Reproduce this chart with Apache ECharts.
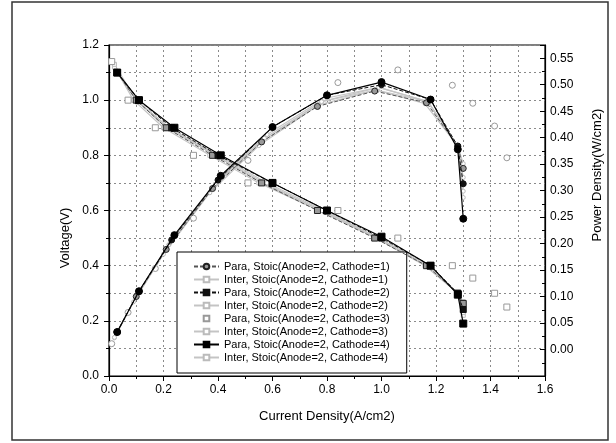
<!DOCTYPE html>
<html>
<head>
<meta charset="utf-8">
<script src="https://cdn.jsdelivr.net/npm/echarts@6/dist/echarts.min.js"></script>
<style>
  html, body { margin: 0; padding: 0; background: #fff; }
  #chart { width: 616px; height: 443px; }
</style>
</head>
<body>
<div id="chart"></div>
<script>
// current density (A/cm2), voltage (V), power density (W/cm2) per run
const currentPara1 = [0.03, 0.10, 0.21, 0.38, 0.56, 0.765, 0.975, 1.165, 1.28, 1.30]
const voltagePara1 = [1.10, 1.00, 0.90, 0.80, 0.70, 0.60, 0.50, 0.40, 0.30, 0.263]
const powerPara1 = [0.033, 0.100, 0.189, 0.304, 0.392, 0.459, 0.488, 0.466, 0.384, 0.342]

const currentInter1 = [0.03, 0.10, 0.21, 0.39, 0.57, 0.78, 0.98, 1.17, 1.28, 1.30]
const voltageInter1 = [1.10, 1.00, 0.90, 0.80, 0.70, 0.60, 0.50, 0.40, 0.30, 0.27]
const powerInter1 = [0.033, 0.100, 0.189, 0.312, 0.399, 0.468, 0.490, 0.468, 0.384, 0.351]

const currentPara2 = [0.03, 0.11, 0.23, 0.40, 0.60, 0.80, 1.00, 1.18, 1.28, 1.30]
const voltagePara2 = [1.10, 1.00, 0.90, 0.80, 0.70, 0.60, 0.50, 0.40, 0.30, 0.241]
const powerPara2 = [0.033, 0.110, 0.207, 0.320, 0.420, 0.480, 0.500, 0.472, 0.384, 0.313]

const currentInter2 = [0.03, 0.10, 0.22, 0.40, 0.58, 0.79, 0.99, 1.17, 1.28, 1.30]
const voltageInter2 = [1.10, 1.00, 0.90, 0.80, 0.70, 0.60, 0.50, 0.40, 0.30, 0.25]
const powerInter2 = [0.033, 0.100, 0.198, 0.320, 0.406, 0.474, 0.495, 0.468, 0.384, 0.325]

const currentPara3 = [0.01, 0.07, 0.17, 0.31, 0.51, 0.84, 1.06, 1.26, 1.335, 1.415, 1.46]
const voltagePara3 = [1.14, 1.00, 0.90, 0.80, 0.70, 0.60, 0.50, 0.40, 0.355, 0.30, 0.25]
const powerPara3 = [0.011, 0.070, 0.153, 0.248, 0.357, 0.504, 0.528, 0.499, 0.465, 0.422, 0.362]

const currentInter3 = [0.02, 0.09, 0.20, 0.37, 0.55, 0.77, 0.98, 1.16, 1.28, 1.30]
const voltageInter3 = [1.12, 1.00, 0.90, 0.80, 0.70, 0.60, 0.50, 0.40, 0.30, 0.22]
const powerInter3 = [0.022, 0.090, 0.180, 0.296, 0.385, 0.462, 0.490, 0.464, 0.384, 0.287]

const currentPara4 = [0.03, 0.11, 0.24, 0.41, 0.60, 0.80, 1.00, 1.18, 1.28, 1.30]
const voltagePara4 = [1.10, 1.00, 0.90, 0.80, 0.70, 0.60, 0.505, 0.40, 0.295, 0.19]
const powerPara4 = [0.033, 0.110, 0.216, 0.328, 0.420, 0.480, 0.505, 0.472, 0.378, 0.247]

const currentInter4 = [0.02, 0.10, 0.22, 0.39, 0.56, 0.78, 0.99, 1.17, 1.28, 1.30]
const voltageInter4 = [1.13, 1.00, 0.90, 0.80, 0.70, 0.60, 0.50, 0.40, 0.30, 0.23]
const powerInter4 = [0.023, 0.100, 0.198, 0.312, 0.392, 0.468, 0.495, 0.468, 0.384, 0.299]

const xTicks = [0.0, 0.2, 0.4, 0.6, 0.8, 1.0, 1.2, 1.4, 1.6]
const voltageTicks = [0.0, 0.2, 0.4, 0.6, 0.8, 1.0, 1.2]
const powerTicks = [0.00, 0.05, 0.10, 0.15, 0.20, 0.25, 0.30, 0.35, 0.40, 0.45, 0.50, 0.55]

const names = [
  'Para, Stoic(Anode=2, Cathode=1)',
  'Inter, Stoic(Anode=2, Cathode=1)',
  'Para, Stoic(Anode=2, Cathode=2)',
  'Inter, Stoic(Anode=2, Cathode=2)',
  'Para, Stoic(Anode=2, Cathode=3)',
  'Inter, Stoic(Anode=2, Cathode=3)',
  'Para, Stoic(Anode=2, Cathode=4)',
  'Inter, Stoic(Anode=2, Cathode=4)'
]

const zip = (xs, ys) => xs.map((x, i) => [x, ys[i]])

// look of each run: [line color, line type, line width, symbol fill, symbol border, size, empty]
const looks = {
  para1: { line: '#555', type: [4, 2], width: 1, fill: '#999', border: '#222', size: 6 },
  inter: { line: '#c4c4c4', type: 'solid', width: 1.2, fill: '#fff', border: '#bbb', size: 4 },
  para2: { line: '#111', type: [4, 2], width: 1, fill: '#111', border: '#111', size: 6 },
  para3: { line: '#aaa', type: 'solid', width: 0, fill: '#fff', border: '#999', size: 6 },
  para4: { line: '#000', type: 'solid', width: 1.2, fill: '#000', border: '#000', size: 7 }
}

function pair(name, cur, volt, pow, look, powerFirst, z) {
  const base = (sym, axis, data) => ({
    name: name,
    type: 'line',
    yAxisIndex: axis,
    data: data,
    symbol: sym,
    symbolSize: look.size,
    z: z,
    lineStyle: { color: look.line, type: look.type, width: look.width, opacity: look.width ? 1 : 0 },
    itemStyle: { color: look.fill, borderColor: look.border, borderWidth: 1 },
    emphasis: { disabled: true }
  })
  const v = base('rect', 0, zip(cur, volt))
  const p = base('circle', 1, zip(cur, pow))
  return powerFirst ? [p, v] : [v, p]
}

const series = [].concat(
  pair(names[1], currentInter1, voltageInter1, powerInter1, looks.inter, false, 2),
  pair(names[3], currentInter2, voltageInter2, powerInter2, looks.inter, false, 2),
  pair(names[5], currentInter3, voltageInter3, powerInter3, looks.inter, false, 2),
  pair(names[7], currentInter4, voltageInter4, powerInter4, looks.inter, false, 2),
  pair(names[4], currentPara3, voltagePara3, powerPara3, looks.para3, false, 3),
  pair(names[0], currentPara1, voltagePara1, powerPara1, looks.para1, true, 4),
  pair(names[2], currentPara2, voltagePara2, powerPara2, looks.para2, false, 5),
  pair(names[6], currentPara4, voltagePara4, powerPara4, looks.para4, false, 6)
)

const gridLine = { show: true, lineStyle: { color: '#8a8a8a', type: [2, 3], width: 1 } }
const font = 'Liberation Sans, Arial, sans-serif'

const chart = echarts.init(document.getElementById('chart'), null, { renderer: 'canvas' })
chart.setOption({
  backgroundColor: '#fff',
  animation: false,
  textStyle: { fontFamily: font },
  grid: {
    left: 109, right: 71, top: 45, bottom: 67,
    show: true, borderColor: '#000', borderWidth: 1.2
  },
  legend: {
    data: names,
    orient: 'vertical',
    left: 177,
    top: 252,
    backgroundColor: '#fff',
    borderColor: '#000',
    borderWidth: 1,
    borderRadius: 0,
    padding: [8, 17, 9, 16],
    itemGap: 0,
    itemWidth: 25,
    itemHeight: 7,
    itemTextGap: 4,
    selectedMode: false,
    textStyle: { fontSize: 11, color: '#000', fontFamily: font, lineHeight: 13 }
  },
  xAxis: {
    type: 'value',
    min: xTicks[0],
    max: xTicks[xTicks.length - 1],
    interval: 0.2,
    axisLine: { show: true, lineStyle: { color: '#000', width: 1.2 } },
    axisTick: { show: true, length: 5, lineStyle: { color: '#000' } },
    minorTick: { show: true, splitNumber: 2, length: 3, lineStyle: { color: '#000' } },
    axisLabel: { fontSize: 12, color: '#000', margin: 8, formatter: v => v.toFixed(1) },
    splitLine: gridLine,
    minorSplitLine: gridLine
  },
  yAxis: [
    {
      type: 'value',
      min: voltageTicks[0],
      max: voltageTicks[voltageTicks.length - 1],
      interval: 0.2,
      axisLine: { show: true, lineStyle: { color: '#000', width: 1.2 } },
      axisTick: { show: true, length: 5, lineStyle: { color: '#000' } },
      minorTick: { show: true, splitNumber: 2, length: 3, lineStyle: { color: '#000' } },
      axisLabel: { fontSize: 12, color: '#000', margin: 10, formatter: v => v.toFixed(1) },
      splitLine: gridLine,
      minorSplitLine: gridLine
    },
    {
      type: 'value',
      position: 'right',
      min: -0.05,
      max: 0.575,
      interval: 0.05,
      axisLine: { show: true, lineStyle: { color: '#000', width: 1.2 } },
      axisTick: { show: true, inside: true, length: 5, lineStyle: { color: '#000' } },
      minorTick: { show: true, splitNumber: 2, length: 3, lineStyle: { color: '#000' } },
      axisLabel: {
        fontSize: 12, color: '#000', margin: 5,
        formatter: v => {
          const hit = powerTicks.find(t => Math.abs(t - v) < 1e-6)
          return hit === undefined ? '' : hit.toFixed(2)
        }
      },
      splitLine: { show: false }
    }
  ],
  graphic: [
    {
      type: 'rect', silent: true, z: -1,
      shape: { x: 12, y: 2, width: 596, height: 438 },
      style: { fill: 'none', stroke: '#333', lineWidth: 1.5 }
    },
    {
      type: 'text', silent: true,
      x: 65, y: 238, rotation: Math.PI / 2,
      style: { text: 'Voltage(V)', font: '13px ' + font, fill: '#000', align: 'center', verticalAlign: 'middle' }
    },
    {
      type: 'text', silent: true,
      x: 597, y: 175, rotation: Math.PI / 2,
      style: { text: 'Power Density(W/cm2)', font: '13px ' + font, fill: '#000', align: 'center', verticalAlign: 'middle' }
    },
    {
      type: 'text', silent: true,
      x: 327, y: 416,
      style: { text: 'Current Density(A/cm2)', font: '13px ' + font, fill: '#000', align: 'center', verticalAlign: 'middle' }
    }
  ],
  series: series
})
</script>
</body>
</html>
